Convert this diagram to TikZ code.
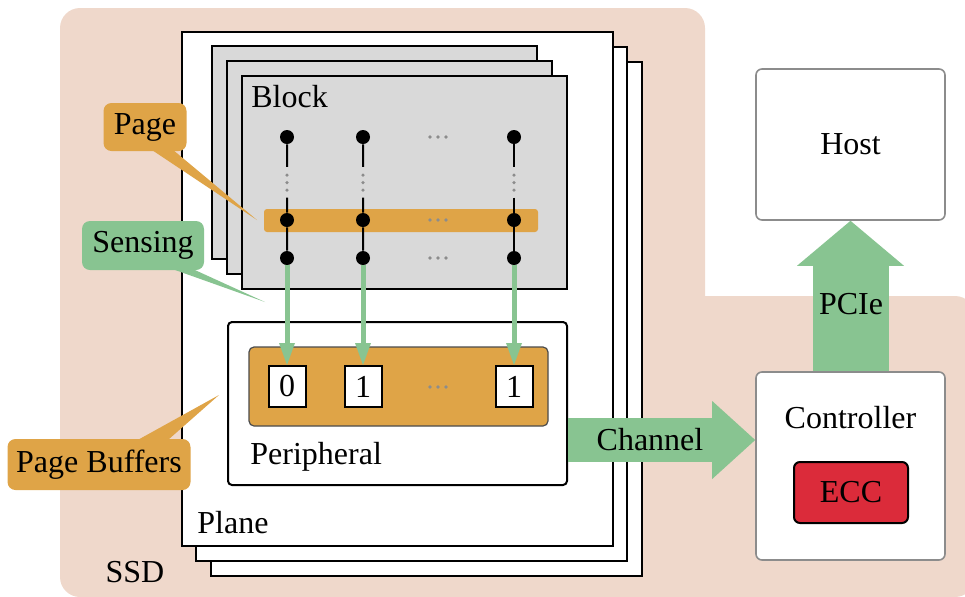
\documentclass[tikz,border=0pt]{standalone}
\usepackage{fontspec}
\setmainfont{Liberation Serif}
\usetikzlibrary{arrows.meta,calc}
\definecolor{ssdbg}{HTML}{EFD8CB}
\definecolor{amber}{HTML}{DFA447}
\definecolor{leaf}{HTML}{88C491}
\definecolor{blockgray}{HTML}{D9D9D9}
\definecolor{eccred}{HTML}{DB2B3A}
\definecolor{frame}{HTML}{8C8C8C}
\definecolor{dotgray}{HTML}{8C8C8C}

\begin{document}
\begin{tikzpicture}[x=0.5pt,y=-0.5pt,font=\fontsize{16}{19}\selectfont,
    plane/.style={draw,line width=1pt,fill=white,minimum width=215.5pt,minimum height=257pt,inner sep=0pt},
    block/.style={draw,line width=1pt,fill=blockgray,minimum width=162.5pt,minimum height=106.5pt,inner sep=0pt},
    cell/.style={circle,fill=black,inner sep=0pt,minimum size=7pt},
    speck/.style={circle,fill=dotgray,inner sep=0pt,minimum size=1.8pt},
    buf/.style={draw,line width=1pt,fill=white,minimum width=18.5pt,minimum height=20.5pt,inner sep=0pt},
    unit/.style={draw=frame,line width=0.8pt,fill=white,rounded corners=3pt,minimum width=94.5pt,inner sep=0pt},
    callout/.style={rounded corners=4pt,inner sep=0pt},
    sense/.style={leaf,line width=2.5pt,-{Triangle[length=11pt,width=8pt,line width=0pt]}}]
  \useasboundingbox (0,0) rectangle (965,596);
  \fill[ssdbg,rounded corners=10pt] (60,8) rectangle (705,597);
  \fill[ssdbg,rounded corners=10pt] (660,296) rectangle (975,597);

  \foreach \i in {2,1,0}
    \node[plane] (plane\i) at (397+14.5*\i,289+15*\i) {};
  \node[anchor=west,inner sep=0pt] (planelabel) at (197,523) {Plane};

  \foreach \i in {0,1,2}
    \node[block] (block\i) at (374.5+15*\i,152.5+15*\i) {};
  \node[anchor=west,inner sep=0pt] (blocklabel) at (251,97) {Block};
  \node[fill=amber,rounded corners=1.5pt,minimum width=137pt,minimum height=11.5pt,inner sep=0pt] (pagebar) at (401,220.5) {};

  \foreach \c/\x in {1/287,2/363,3/514}{
    \foreach \r/\y in {1/137,2/220,3/258}
      \node[cell] (c\c\r) at (\x,\y) {};
    \draw[line width=1pt] (c\c1) -- ($(c\c1)!0.36!(c\c2)$);
    \draw[line width=1pt] ($(c\c1)!0.73!(c\c2)$) -- (c\c2) -- (c\c3);
    \foreach \f in {0.46,0.55,0.64}
      \node[speck] at ($(c\c1)!\f!(c\c2)$) {};
  }

  \node[draw,line width=1pt,fill=white,rounded corners=2pt,minimum width=169.5pt,minimum height=81.5pt,inner sep=0pt] (periph) at (397.5,403.5) {};
  \node[anchor=west,inner sep=0pt] (periphlabel) at (250,457) {Peripheral};
  \node[draw=black!70,line width=0.6pt,fill=amber,rounded corners=2.5pt,minimum width=149.5pt,minimum height=39.5pt,inner sep=0pt] (bufbar) at (398.5,386.5) {};
  \node[buf] (buf1) at (287,386.5) {0};
  \node[buf] (buf2) at (363,386.5) {1};
  \node[buf] (buf3) at (514,386.5) {1};
  \foreach \y in {137,220,258,387}
    \foreach \dx in {-8,0,8}
      \node[speck] at (438+\dx,\y) {};
  \foreach \c in {1,2,3}
    \draw[sense] (c\c3) -- (buf\c);

  \node[unit,minimum height=94pt] (ctrl) at (850.5,466) {};
  \node (ctrllabel) at (850.5,418) {Controller};
  \node[draw,line width=1pt,fill=eccred,rounded corners=3pt,minimum width=57pt,minimum height=30.5pt,inner sep=0pt] (ecc) at (851,492.5) {ECC};
  \node[unit,minimum height=75.5pt] (host) at (850.5,144.5) {Host};

  \coordinate (chanlevel) at (0,440);
  \draw[leaf,line width=22pt,-{Triangle[length=21.5pt,width=39pt,line width=0pt]}] (periph.east |- chanlevel) -- (ctrl.west |- chanlevel);
  \node (chanlabel) at (650,440) {Channel};
  \draw[leaf,line width=38pt,-{Triangle[length=22.5pt,width=53.5pt,line width=0pt]}] (ctrl.north) -- (host.south);
  \node (pcielabel) at (851,304) {PCIe};

  \node[callout,fill=amber,minimum width=41.5pt,minimum height=24pt] (pagecall) at (145,127) {Page};
  \coordinate (pagetip) at (257,220);
  \fill[amber] ([xshift=1.5pt,yshift=2pt]pagecall.south) -- (pagetip) -- ([xshift=12.5pt,yshift=2pt]pagecall.south) -- cycle;
  \node[callout,fill=leaf,minimum width=61pt,minimum height=24.5pt] (sensecall) at (143,245.5) {Sensing};
  \coordinate (sensetip) at (265,302);
  \fill[leaf] ([xshift=11pt,yshift=2pt]sensecall.south) -- (sensetip) -- ([xshift=22pt,yshift=2pt]sensecall.south) -- cycle;
  \node[callout,fill=amber,minimum width=91.5pt,minimum height=25.5pt] (bufcall) at (99,464.5) {Page Buffers};
  \coordinate (buftip) at (219,395);
  \fill[amber] ([xshift=17pt,yshift=-2pt]bufcall.north) -- (buftip) -- ([xshift=33pt,yshift=-2pt]bufcall.north) -- cycle;

  \node (ssdlabel) at (135,572) {SSD};
\end{tikzpicture}
\end{document}
